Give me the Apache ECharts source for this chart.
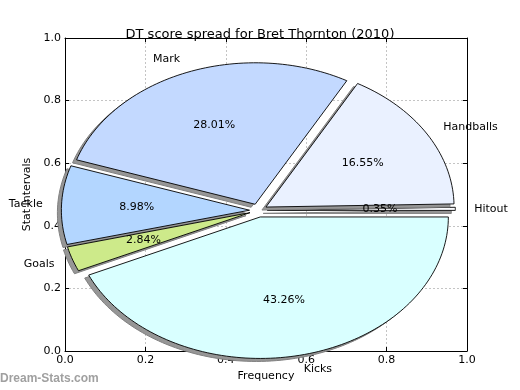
<!DOCTYPE html>
<html><head><meta charset="utf-8">
<script src="https://cdn.jsdelivr.net/npm/echarts@6/dist/echarts.min.js"></script>
<style>html,body{margin:0;padding:0;background:#fff}#c{width:520px;height:390px}</style>
</head><body><div id="c"></div>
<script>
// ---- data ----
const sliceLabels = ['Hitout', 'Handballs', 'Mark', 'Tackle', 'Goals', 'Kicks'];
const slicePercents = [0.35, 16.55, 28.01, 8.98, 2.84, 43.26];
const tickValues = [0.0, 0.2, 0.4, 0.6, 0.8, 1.0];

// ---- styles / geometry ----
const sliceColors = ['#fbfcff', '#eaf1ff', '#c3d9ff', '#b3d6ff', '#cdea8a', '#d9ffff'];
const CENTER = [0.481, 0.449];
const RX = 0.468, RY = 0.452;
const EXPLODE = 0.047;
const FONT = 'DejaVu Sans';

const total = slicePercents.reduce((a, b) => a + b, 0);
const starts = [];
let acc = 0;
slicePercents.forEach(p => { starts.push(acc / total * 2 * Math.PI); acc += p; });

function geom(i) {
  const a0 = starts[i];
  const a1 = a0 + slicePercents[i] / total * 2 * Math.PI;
  const m = (a0 + a1) / 2;
  const cx = CENTER[0] + RX * EXPLODE * Math.cos(m);
  const cy = CENTER[1] + RY * EXPLODE * Math.sin(m);
  return { a0, a1, m, cx, cy };
}

const chart = echarts.init(document.getElementById('c'));
const axisCommon = {
  type: 'value', min: tickValues[0], max: tickValues[tickValues.length - 1], interval: 0.2,
  axisLine: { show: true, onZero: false, lineStyle: { color: '#000', width: 1 } },
  axisTick: { show: true, inside: true, length: 4, lineStyle: { color: '#000' } },
  axisLabel: { color: '#000', fontFamily: FONT, fontSize: 11, formatter: v => v.toFixed(1), showMinLabel: true, showMaxLabel: true },
  splitLine: { show: true, lineStyle: { type: [2, 2], color: '#c4c4c4', width: 1 } }
};

chart.setOption({
  animation: false,
  title: { text: 'DT score spread for Bret Thornton (2010)', left: 'center', top: 23,
    textStyle: { fontFamily: FONT, fontSize: 13, fontWeight: 'normal', color: '#000' } },
  grid: { left: 65, right: 53, top: 38, bottom: 39, show: false },
  xAxis: [
    Object.assign({}, axisCommon, { position: 'bottom', name: 'Frequency', nameLocation: 'middle', nameGap: 17,
      nameTextStyle: { fontFamily: FONT, fontSize: 11, color: '#000' },
      axisLabel: Object.assign({}, axisCommon.axisLabel, { margin: 4 }) }),
    Object.assign({}, axisCommon, { position: 'top', axisLabel: { show: false }, splitLine: { show: false } })
  ],
  yAxis: [
    Object.assign({}, axisCommon, { position: 'left', name: 'Stat Intervals', nameLocation: 'middle', nameGap: 25,
      nameTextStyle: { fontFamily: FONT, fontSize: 11, color: '#000' },
      axisLabel: Object.assign({}, axisCommon.axisLabel, { margin: 4 }) }),
    Object.assign({}, axisCommon, { position: 'right', axisLabel: { show: false }, splitLine: { show: false } })
  ],
  graphic: [{ type: 'text', left: 0, top: 373, z: 100,
    style: { text: 'Dream-Stats.com', fill: '#a0a0a0', font: 'bold 12px Liberation Sans' } }],
  series: [
    {
      type: 'custom', coordinateSystem: 'cartesian2d', clip: false, z: 5,
      data: slicePercents.map((p, i) => [i, p]),
      renderItem: function (params, api) {
        const i = params.dataIndex;
        const g = geom(i);
        const n = Math.max(4, Math.ceil((g.a1 - g.a0) / (2 * Math.PI) * 240));
        const pts = [api.coord([g.cx, g.cy])];
        for (let k = 0; k <= n; k++) {
          const a = g.a0 + (g.a1 - g.a0) * k / n;
          pts.push(api.coord([g.cx + RX * Math.cos(a), g.cy + RY * Math.sin(a)]));
        }
        const shadowPts = pts.map(p => [p[0] - 4, p[1] + 3]);
        return {
          type: 'group', children: [
            { type: 'polygon', shape: { points: shadowPts }, style: { fill: '#969696', stroke: '#808080', lineWidth: 1 } },
            { type: 'polygon', shape: { points: pts }, style: { fill: sliceColors[i], stroke: '#000', lineWidth: 0.9 } }
          ]
        };
      }
    },
    {
      type: 'custom', coordinateSystem: 'cartesian2d', clip: false, z: 6,
      data: slicePercents.map((p, i) => [i, p]),
      renderItem: function (params, api) {
        const i = params.dataIndex;
        const g = geom(i);
        const lp = api.coord([g.cx + 1.1 * RX * Math.cos(g.m), g.cy + 1.1 * RY * Math.sin(g.m)]);
        const pp = api.coord([g.cx + 0.6 * RX * Math.cos(g.m), g.cy + 0.6 * RY * Math.sin(g.m)]);
        const align = Math.cos(g.m) > 0 ? 'left' : 'right';
        return {
          type: 'group', children: [
            { type: 'text', x: lp[0], y: lp[1], style: { text: sliceLabels[i], fill: '#000', font: '11px ' + FONT, align: align, verticalAlign: 'middle' } },
            { type: 'text', x: pp[0], y: pp[1], style: { text: slicePercents[i].toFixed(2) + '%', fill: '#000', font: '11px ' + FONT, align: 'center', verticalAlign: 'middle' } }
          ]
        };
      }
    }
  ]
});
</script></body></html>
